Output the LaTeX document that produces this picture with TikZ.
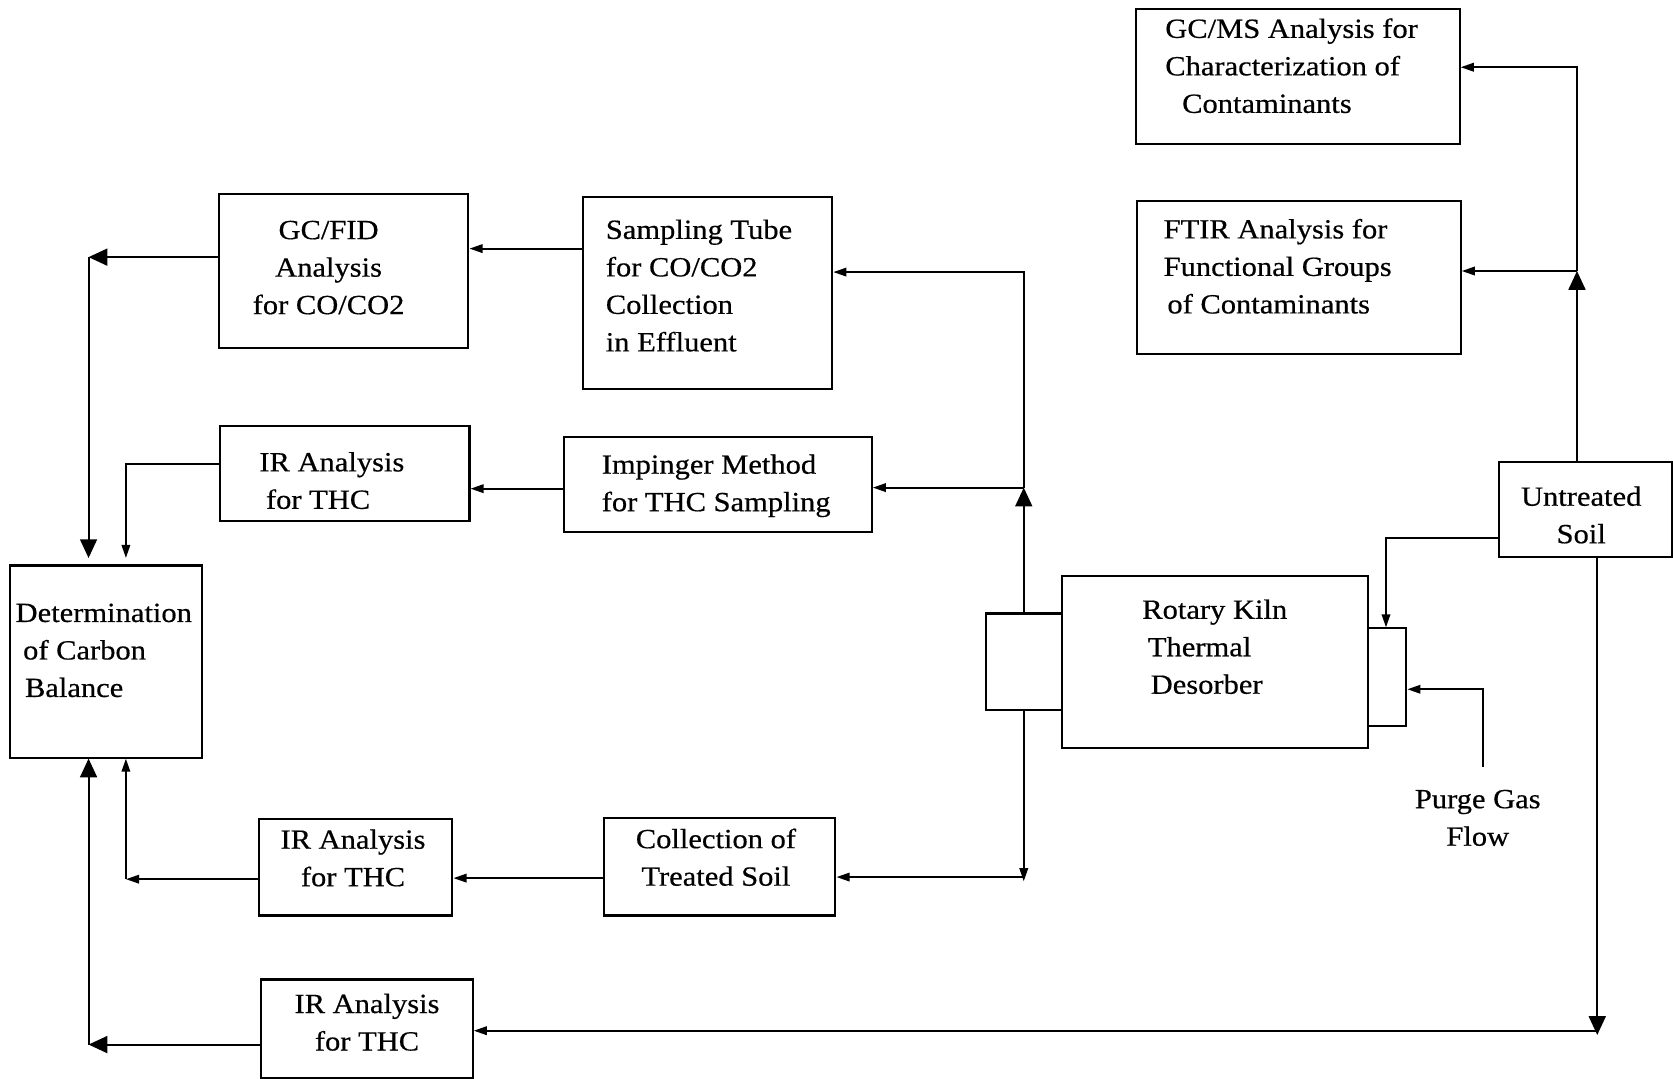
\documentclass[tikz,border=0pt]{standalone}
\usepackage{fontspec}
\newfontfamily\kilnfont{Liberation Serif}[FakeStretch=1.1,FakeBold=0.5]
\usetikzlibrary{arrows.meta}
% 文本块：#1 上移, #2 左移, #3 对齐, #4 内容
\newcommand\lifted[4]{\setbox0=\hbox{\begin{tabular}{@{}#3@{}}#4\end{tabular}}%
  \ht0=\dimexpr\ht0-#1\relax \dp0=\dimexpr\dp0+#1\relax \wd0=\dimexpr\wd0+#2*2\relax \box0}
\tikzset{
  box/.style={draw, line width=1.1pt, inner sep=0pt},
  sz/.style 2 args={minimum width=#1*0.02cm, minimum height=#2*0.02cm},
  arr/.style={line width=1.1pt, -{Triangle[length=7pt,width=4.5pt]}},
  bigarr/.style={line width=1.1pt, -{Triangle[length=10pt,width=9pt]}},
}
\begin{document}
\begin{tikzpicture}[x=0.02cm, y=-0.02cm, every node/.style={font=\kilnfont\fontsize{14.8}{20}\selectfont}]
    \useasboundingbox (0,0) rectangle (1568,1011);
    % 右侧分析框
    \node[box, sz={303}{127}] (gcms) at (1216.5,71.5) {\lifted{4.5pt}{3.4pt}{l}{GC/MS Analysis for\\Characterization of\\\hspace{9pt}Contaminants}};
    \node[box, sz={303}{144}] (ftir) at (1217.5,260) {\lifted{4.8pt}{11.4pt}{l}{FTIR Analysis for\\Functional Groups\\\hspace{2pt}of Contaminants}};
    \node[box, sz={162}{89}] (soil) at (1486,477.5) {\lifted{-4pt}{2.3pt}{c}{Untreated\\Soil}};
    % 窑体
    \node[box, sz={71}{90}] (kilnl) at (959.5,620) {};
    \node[box, sz={287}{161}] (kiln) at (1138.5,620.5) {\lifted{7.1pt}{0pt}{l}{Rotary Kiln\\\hspace{3pt}Thermal\\\hspace{4.5pt}Desorber}};
    \node[box, sz={36}{91}] (kilnr) at (1300,634.5) {};
    \node (purge) at (1385,768) {\lifted{0pt}{0pt}{c}{Purge Gas\\Flow}};
    % 中间采样框
    \node[box, sz={234}{180}] (tube) at (663,275) {\lifted{3.1pt}{4.5pt}{l}{Sampling Tube\\for CO/CO2\\Collection\\in Effluent}};
    \node[box, sz={288}{89}] (imp) at (673,454.5) {\lifted{0pt}{1pt}{l}{Impinger Method\\for THC Sampling}};
    \node[box, sz={217}{91}] (treated) at (674.5,812.5) {\lifted{4pt}{2pt}{c}{Collection of\\Treated Soil}};
    % 左侧分析框
    \node[box, sz={234}{144}] (gcfid) at (322,254) {\lifted{1pt}{8pt}{c}{GC/FID\\Analysis\\for CO/CO2}};
    \node[box, sz={234}{89}] (irtop) at (323,443.5) {\lifted{-5pt}{6.8pt}{l}{IR Analysis\\\hspace{3.5pt}for THC}};
    \node[box, sz={181}{90}] (irmid) at (333.5,813) {\lifted{4pt}{1.5pt}{c}{IR Analysis\\for THC}};
    \node[box, sz={198}{92}] (irbot) at (344,964) {\lifted{2.3pt}{0pt}{c}{IR Analysis\\for THC}};
    \node[box, sz={180}{180}] (carbon) at (99,620) {\lifted{5.1pt}{1pt}{l}{Determination\\\hspace{4pt}of Carbon\\\hspace{5pt}Balance}};
    % 节点
    \coordinate (jtube) at (959.5,255);
    \coordinate (jimp) at (959.5,457);
    \coordinate (jtreat) at (959.5,822);
    \coordinate (jtreatend) at (959.5,826);
    \coordinate (jfid) at (83,241);
    \coordinate (jbot) at (83,979);
    \coordinate (jir) at (118,435);
    \coordinate (jmid) at (118,824);
    \coordinate (jftir) at (1478,254);
    \coordinate (jgcms) at (1478,63);
    \coordinate (jsoil) at (1299,504);
    \coordinate (jdown) at (1497,966);
    \coordinate (jpurge) at (1390,719);
    % 窑出口 -> 采样
    \draw[bigarr] (kilnl.north) -- (jimp);
    \draw[arr] (jimp) |- (tube.east |- jtube);
    \draw[arr] (jimp) -- (imp.east |- jimp);
    \draw[arr] (kilnl.south) -- (jtreatend);
    \draw[arr] (jtreat) -- (treated.east |- jtreat);
    \draw[arr] (tube.west |- 0,233) -- (gcfid.east |- 0,233);
    \draw[arr] (imp.west |- 0,458) -- (irtop.east |- 0,458);
    \draw[arr] (treated.west |- 0,823) -- (irmid.east |- 0,823);
    % 汇总到碳平衡
    \draw[bigarr] (gcfid.west |- jfid) -- (jfid);
    \draw[bigarr] (jfid) -- (83,523);
    \draw[arr] (irtop.west |- jir) -| (118,523);
    \draw[arr] (irmid.west |- jmid) -- (jmid);
    \draw[arr] (jmid) -- (jmid |- carbon.south);
    \draw[bigarr] (irbot.west |- jbot) -- (jbot);
    \draw[bigarr] (jbot) -- (jbot |- carbon.south);
    % 未处理土壤
    \draw[bigarr] (soil.north -| jftir) -- (jftir);
    \draw[arr] (jftir) -- (ftir.east |- jftir);
    \draw[arr] (jftir) |- (gcms.east |- jgcms);
    \draw[arr] (soil.west |- jsoil) -| (kilnr.north -| jsoil);
    \draw[bigarr] (soil.south -| jdown) -- (1497,970);
    \draw[arr] (jdown) -- (irbot.east |- jdown);
    \draw[arr] (jpurge) |- (kilnr.east |- 0,646);
\end{tikzpicture}
\end{document}
